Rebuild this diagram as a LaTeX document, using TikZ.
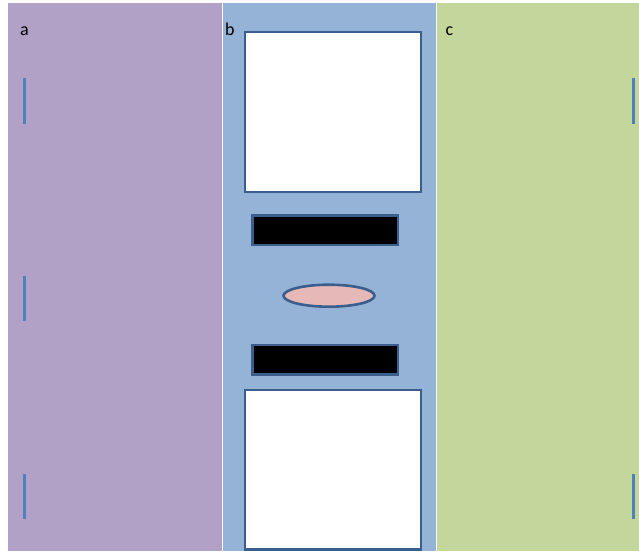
\documentclass[tikz,border=0pt]{standalone}
\usepackage{fontspec}
\setmainfont{Carlito}
\definecolor{panA}{HTML}{B2A1C7}
\definecolor{panB}{HTML}{95B3D7}
\definecolor{panC}{HTML}{C3D69B}
\definecolor{tick}{HTML}{4F81BD}
\definecolor{edge}{HTML}{3B5E8C}
\definecolor{pink}{HTML}{E6B9B8}
\begin{document}
\begin{tikzpicture}[x=1pt,y=-1pt,
  panel/.style={draw=none},
  tickline/.style={draw=tick,line width=3pt},
  whitebox/.style={draw=edge,fill=white,line width=2.6pt},
  blackbar/.style={draw=edge,fill=black,line width=2.6pt},
  lens/.style={draw=edge,fill=pink,line width=2.6pt},
  lab/.style={anchor=base west,inner sep=0pt,font=\fontsize{18}{21}\selectfont}]
\useasboundingbox (0,0) rectangle (639,551);
\fill[white] (0,0) rectangle (639,551);
% panels
\fill[panA] (8,3) rectangle (222,551);
\fill[panB] (223,3) rectangle (435.5,551);
\fill[panC] (437,3) rectangle (639,551);
% labels
\node[lab] (la) at (20,36) {a};
\node[lab] (lb) at (225,36) {b};
\node[lab] (lc) at (445.5,36) {c};
% ticks
\coordinate (a1t) at (24,78); \coordinate (a1b) at (24,124);
\coordinate (a2t) at (24,276); \coordinate (a2b) at (24,321);
\coordinate (a3t) at (24,474); \coordinate (a3b) at (24,519);
\coordinate (c1t) at (633.5,78); \coordinate (c1b) at (633.5,124);
\coordinate (c3t) at (633.5,474); \coordinate (c3b) at (633.5,519);
\draw[tickline] (a1t) -- (a1b);
\draw[tickline] (a2t) -- (a2b);
\draw[tickline] (a3t) -- (a3b);
\draw[tickline] (c1t) -- (c1b);
\draw[tickline] (c3t) -- (c3b);
% middle column
\draw[whitebox] (245,32) rectangle (421,192);
\draw[blackbar] (252.5,215.5) rectangle (398,245);
\draw[lens] (329,295.7) ellipse [x radius=45.5, y radius=11];
\draw[blackbar] (252.5,345) rectangle (398,374.5);
\draw[whitebox] (245,390) rectangle (421,549.5);
\end{tikzpicture}
\end{document}
